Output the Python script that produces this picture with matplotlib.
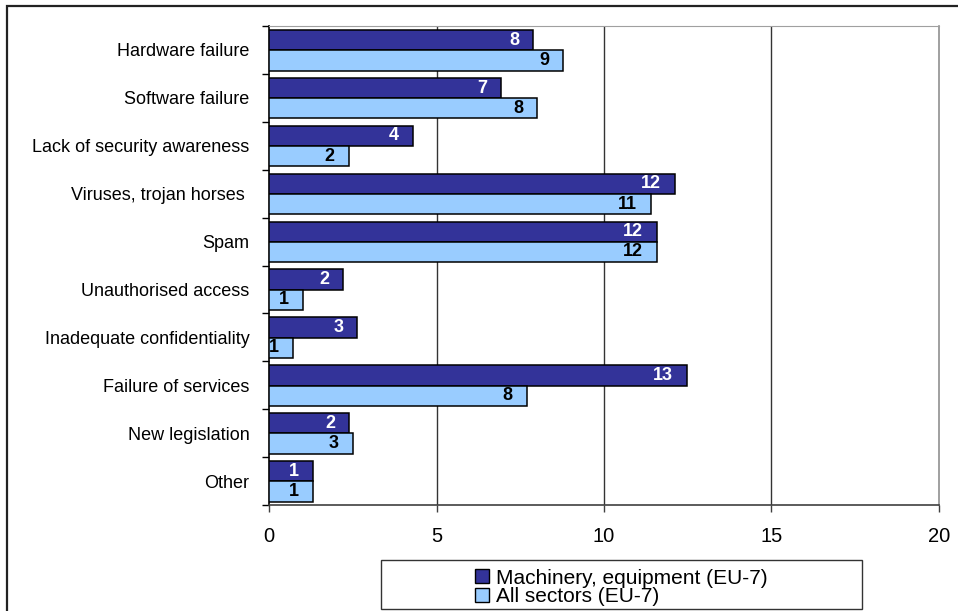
import matplotlib.pyplot as plt
import numpy as np
from matplotlib.patches import Rectangle, Patch

categories = ["Hardware failure", "Software failure", "Lack of security awareness",
              "Viruses, trojan horses ", "Spam", "Unauthorised access",
              "Inadequate confidentiality", "Failure of services", "New legislation", "Other"]
machinery = [7.89, 6.93, 4.30, 12.12, 11.58, 2.21, 2.64, 12.47, 2.39, 1.31]
all_sectors = [8.79, 8.00, 2.38, 11.40, 11.58, 1.01, 0.72, 7.69, 2.50, 1.31]
machinery_lbl = ["8", "7", "4", "12", "12", "2", "3", "13", "2", "1"]
all_sectors_lbl = ["9", "8", "2", "11", "12", "1", "1", "8", "3", "1"]
series_names = ["Machinery, equipment (EU-7)", "All sectors (EU-7)"]
xticks = [0, 5, 10, 15, 20]

dark = "#333399"
light = "#99CCFF"

plt.rcParams['font.family'] = ['Liberation Sans', 'DejaVu Sans']

fig = plt.figure(figsize=(9.58, 6.11), dpi=100)
ax = fig.add_axes([269/958, 1-505/611, 670/958, 479/611])

y = np.arange(len(categories))
h = 0.423
b1 = ax.barh(y - 0.205, machinery, height=h, color=dark, edgecolor="black", linewidth=1.1, zorder=3)
b2 = ax.barh(y + 0.218, all_sectors, height=h, color=light, edgecolor="black", linewidth=1.1, zorder=3)

for bars, lbls, col in [(b1, machinery_lbl, "white"), (b2, all_sectors_lbl, "black")]:
    for r, t in zip(bars, lbls):
        ax.annotate(t, (r.get_width(), r.get_y() + r.get_height()/2), xytext=(-10, 0),
                    textcoords="offset points", ha="right", va="center",
                    color=col, fontsize=13, fontweight="bold", zorder=4)

ax.set_xlim(0, 20)
ax.set_ylim(len(categories) - 0.5, -0.5)
ax.set_xticks(xticks)
ax.set_xticklabels([str(v) for v in xticks], fontsize=14.5)
ax.set_yticks(y)
ax.set_yticklabels(categories, fontsize=13)
ax.set_yticks(np.arange(len(categories) + 1) - 0.5, minor=True)
ax.tick_params(axis="y", which="major", length=0, pad=14)
ax.tick_params(axis="y", which="minor", length=5, width=1, direction="out")
ax.tick_params(axis="x", length=5, width=1, direction="out", pad=11, color="#404040")

for v in xticks[1:-1]:
    ax.axvline(v, color="#333333", linewidth=1, zorder=1)

ax.spines["left"].set_color("black")
ax.spines["left"].set_linewidth(1.2)
ax.spines["bottom"].set_color("#404040")
ax.spines["bottom"].set_linewidth(1.2)
ax.spines["top"].set_color("#a0a0a0")
ax.spines["right"].set_color("#909090")
ax.spines["right"].set_linewidth(1.2)

# outer frame, cut off on the right and bottom
fig.patches.append(Rectangle((7/958, -0.1), 1.2, 1.1 - 6/611, transform=fig.transFigure,
                             fill=False, edgecolor="#222222", linewidth=1.6))

# legend box
fig.patches.append(Rectangle((381/958, 1-609/611), 481/958, 49/611, transform=fig.transFigure,
                             fill=False, edgecolor="#333333", linewidth=1))
handles = [Patch(facecolor=dark, edgecolor="black", linewidth=1),
           Patch(facecolor=light, edgecolor="black", linewidth=1)]
fig.legend(handles, series_names, loc="center", bbox_to_anchor=(621.5/958, 1-587.5/611),
           frameon=False, fontsize=15, handlelength=0.65, handleheight=0.65,
           handletextpad=0.35, labelspacing=0.0, borderpad=0)

fig.savefig("out.png", dpi=100)
